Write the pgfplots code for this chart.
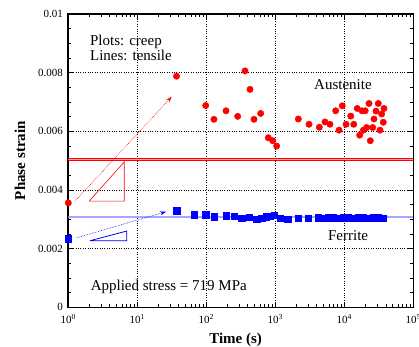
\documentclass[border=0pt]{standalone}
\usepackage{fontspec}
\setmainfont{Liberation Serif}
\usepackage{pgfplots}
\pgfplotsset{compat=1.18}
\usetikzlibrary{arrows.meta}
\begin{document}
\begin{tikzpicture}
\begin{axis}[
  at={(0,0)}, anchor=south west,
  scale only axis, width=345pt, height=293.3pt,
  xmode=log, xmin=1, xmax=1e5, ymin=0, ymax=0.01,
  scaled y ticks=false,
  xtick={1,10,100,1000,10000,100000},
  xticklabels={10\textsuperscript{0},10\textsuperscript{1},10\textsuperscript{2},10\textsuperscript{3},10\textsuperscript{4},10\textsuperscript{5}},
  minor xtick={2,3,4,5,6,7,8,9,20,30,40,50,60,70,80,90,200,300,400,500,600,700,800,900,2000,3000,4000,5000,6000,7000,8000,9000,20000,30000,40000,50000,60000,70000,80000,90000},
  ytick={0,0.002,0.004,0.006,0.008,0.01},
  yticklabels={0,0.002,0.004,0.006,0.008,0.01},
  minor y tick num=3,
  grid=major,
  major grid style={black, dotted, line width=0.7pt},
  tick align=inside,
  major tick length=5pt, minor tick length=3pt,
  every tick/.style={black, line width=0.7pt},
  axis line style={line width=1.6pt},
  tick label style={font=\fontsize{11}{13}\selectfont},
  xticklabel style={yshift=-3.5pt},
  yticklabel style={xshift=-2pt},
  xlabel={Time (s)}, ylabel={Phase strain},
  every axis y label/.style={at={(axis description cs:-0.14,0.5)}, rotate=90, anchor=center, font=\fontsize{15}{17}\selectfont\bfseries},
  every axis x label/.style={at={(axis description cs:0.485,-0.112)}, anchor=center, font=\fontsize{15}{17}\selectfont\bfseries},
  clip mode=individual,
]
% tensile lines
\addplot[red, line width=0.9pt, double=red!35, double distance=1.1pt] coordinates {(1,0.00505) (100000,0.00505)};
\addplot[blue, line width=0.9pt, double=blue!35, double distance=1.1pt] coordinates {(1,0.00308) (100000,0.00308)};
% annotations
\addplot[red, densely dotted, line width=0.6pt, -{Stealth[length=6pt, width=4pt]}] coordinates {(1.25,0.00362) (31.5,0.00718)};
\addplot[red, line width=0.6pt] coordinates {(2.01,0.00362) (6.48,0.00362) (6.48,0.00496) (2.01,0.00362)};
\addplot[blue, densely dotted, line width=0.6pt, -{Stealth[length=6pt, width=4pt]}] coordinates {(1.32,0.00237) (26.1,0.00326)};
\addplot[blue, line width=0.8pt] coordinates {(2.06,0.00227) (7.02,0.00227) (7.02,0.00260) (2.06,0.00227)};
% creep: austenite
\addplot[only marks, mark=*, mark size=3.2pt, red, mark options={fill=red, draw=red}] coordinates {
(1,0.00356) (37,0.00788) (98,0.00688) (129,0.00641) (193,0.00670) (285,0.00651)
(364,0.00806) (430,0.00743) (491,0.00641) (614,0.00661) (792,0.00578) (917,0.00568)
(1047,0.00550) (2155,0.00642) (3078,0.00624) (4345,0.00614) (5250,0.00632) (6200,0.00624)
(7500,0.00670) (8380,0.00604) (9350,0.00687) (10600,0.00624) (12400,0.00652) (13700,0.00624)
(15400,0.00678) (16700,0.00587) (18000,0.00670) (18900,0.00604) (20100,0.00670) (21100,0.00613)
(22800,0.00695) (23800,0.00568) (25800,0.00613) (26900,0.00642) (28800,0.00669) (31100,0.00695)
(32900,0.00604) (34800,0.00659) (36700,0.00631) (37600,0.00678)
};
% creep: ferrite
\addplot[only marks, mark=square*, mark size=3.2pt, blue, mark options={fill=blue, draw=blue}] coordinates {
(1,0.00234) (37,0.00329) (67,0.00316) (98,0.00316) (129,0.00309) (193,0.00312) (252,0.00311)
(326,0.00303) (420,0.00308) (537,0.00300) (635,0.00304) (733,0.00309) (838,0.00311) (968,0.00314)
(1170,0.00303) (1510,0.00300) (2155,0.00303) (3010,0.00303)
(4160,0.00305) (4910,0.00304) (5800,0.00306) (6860,0.00305) (8110,0.00303) (9570,0.00305)
(11300,0.00306) (13400,0.00304) (15800,0.00305) (18700,0.00306) (22100,0.00304) (26100,0.00305)
(30800,0.00306) (36400,0.00304)
};
% texts
\node[anchor=base west, font=\fontsize{15}{17}\selectfont] at (axis description cs:0.053,0.894) {Plots: creep};
\node[anchor=base west, font=\fontsize{15}{17}\selectfont] at (axis description cs:0.053,0.841) {Lines: tensile};
\node[anchor=base, font=\fontsize{15}{17}\selectfont] at (axis description cs:0.796,0.741) {Austenite};
\node[anchor=base, font=\fontsize{15}{17}\selectfont] at (axis description cs:0.811,0.228) {Ferrite};
\node[anchor=base west, font=\fontsize{15}{17}\selectfont] at (axis description cs:0.055,0.0556) {Applied stress = 719 MPa};
\end{axis}
\pgfresetboundingbox
\path (-68.3pt,-38.7pt) rectangle (350.7pt,307.3pt);
\end{tikzpicture}
\end{document}
